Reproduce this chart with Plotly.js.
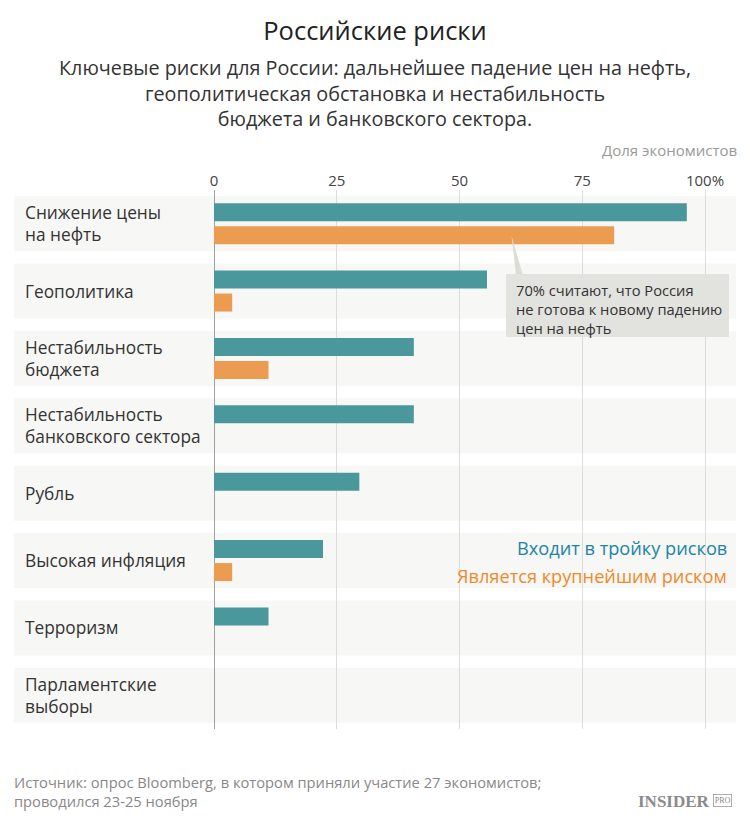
<!DOCTYPE html>
<html><head><meta charset="utf-8">
<script src="https://cdn.plot.ly/plotly-3.0.1.min.js"></script>
<style>html,body{margin:0;padding:0;background:#fff;}#chart{width:750px;height:820px;}</style>
</head><body><div id="chart"></div>
<script>
const categories = ['Снижение цены<br>на нефть','Геополитика','Нестабильность<br>бюджета','Нестабильность<br>банковского сектора','Рубль','Высокая инфляция','Терроризм','Парламентские<br>выборы'];
const top3 = [96.3, 55.6, 40.7, 40.7, 29.6, 22.2, 11.1, 0];
const biggest = [81.5, 3.7, 11.1, 0, 0, 3.7, 0, 0];
const tickVals = [0, 25, 50, 75, 100];
const tickText = ['0', '25', '50', '75', '100%'];
const seriesNames = ['Входит в тройку рисков', 'Является крупнейшим риском'];

const W = 750, H = 820;
const L = 214, R = 736, T = 190, B = 729;
const px = x => (x - L) / (R - L);
const py = y => (B - y) / (B - T);
const FONT = 'Open Sans, sans-serif';
const TEAL = '#4a989c', ORANGE = '#eb9c50';

const traces = [
  {type:'bar', orientation:'h', y:categories, x:top3, name:seriesNames[0], marker:{color:TEAL}, hoverinfo:'skip'},
  {type:'bar', orientation:'h', y:categories, x:biggest, name:seriesNames[1], marker:{color:ORANGE}, hoverinfo:'skip'}
];

const shapes = [];
categories.forEach((c, i) => {
  shapes.push({type:'rect', layer:'below', xref:'paper', yref:'y', x0:px(14), x1:1, y0:i-0.408, y1:i+0.408, fillcolor:'#f7f7f5', line:{width:0}});
});
// callout box + pointer
shapes.push({type:'path', xref:'x', yref:'y', path:'M 60.6,0.18 L 61.5,0.76 L 62.9,0.76 Z', fillcolor:'#dcdcd7', line:{width:0}});
shapes.push({type:'rect', xref:'paper', yref:'paper', x0:px(506), x1:px(729), y0:py(337), y1:py(274), fillcolor:'#e2e2de', line:{width:0}});

const annotations = [];
categories.forEach((c, i) => {
  annotations.push({xref:'paper', yref:'y', x:px(23), y:i, xanchor:'left', yanchor:'middle', align:'left', text:c, showarrow:false, font:{family:FONT, size:17.3, color:'#333'}});
});
annotations.push(
  {xref:'paper', yref:'paper', x:px(375), y:py(93), xanchor:'center', yanchor:'middle', align:'center', showarrow:false,
   text:'Ключевые риски для России: дальнейшее падение цен на нефть,<br>геополитическая обстановка и нестабильность<br>бюджета и банковского сектора.',
   font:{family:FONT, size:19.8, color:'#333'}},
  {xref:'paper', yref:'paper', x:px(739), y:py(150), xanchor:'right', yanchor:'middle', showarrow:false, text:'Доля экономистов', font:{family:FONT, size:15, color:'#999'}},
  {xref:'paper', yref:'paper', x:px(514), y:py(309), xanchor:'left', yanchor:'middle', align:'left', showarrow:false,
   text:'70% считают, что Россия<br>не готова к новому падению<br>цен на нефть', font:{family:FONT, size:14.7, color:'#333'}},
  {xref:'paper', yref:'paper', x:px(729), y:py(548), xanchor:'right', yanchor:'middle', showarrow:false, text:seriesNames[0], font:{family:FONT, size:18.2, color:'#2184a8'}},
  {xref:'paper', yref:'paper', x:px(729), y:py(576), xanchor:'right', yanchor:'middle', showarrow:false, text:seriesNames[1], font:{family:FONT, size:18.2, color:'#ee8a2c'}},
  {xref:'paper', yref:'paper', x:px(12), y:py(791), xanchor:'left', yanchor:'middle', align:'left', showarrow:false,
   text:'Источник: опрос Bloomberg, в котором приняли участие 27 экономистов;<br>проводился 23-25 ноября', font:{family:FONT, size:14.7, color:'#888'}},
  {xref:'paper', yref:'paper', x:px(712), y:py(801), xanchor:'right', yanchor:'middle', showarrow:false, text:'<b>INSIDER</b>', font:{family:'Liberation Serif, serif', size:17, color:'#8a8a8a'}},
  {xref:'paper', yref:'paper', x:px(713), y:py(800), xanchor:'left', yanchor:'middle', showarrow:false, text:'PRO', font:{family:'Liberation Serif, serif', size:8, color:'#8a8a8a'}, bordercolor:'#9a9a9a', borderwidth:0.8, borderpad:1}
);

const layout = {
  width:W, height:H, paper_bgcolor:'#fff', plot_bgcolor:'rgba(0,0,0,0)',
  margin:{l:L, r:W-R, t:T, b:H-B, pad:0},
  showlegend:false,
  title:{text:'Российские риски', x:0.5, xanchor:'center', y:1-31/H, yanchor:'middle', font:{family:FONT, size:25.5, color:'#222'}},
  barmode:'group', bargap:0.318, bargroupgap:0.217,
  xaxis:{side:'top', range:[0, 100*(R-L)/491], tickvals:tickVals, ticktext:tickText, ticks:'', showgrid:true, gridcolor:'#dcdcdc', gridwidth:1,
         zeroline:true, zerolinecolor:'#a0a0a0', zerolinewidth:1, showline:false, fixedrange:true,
         tickfont:{family:FONT, size:15, color:'#444'}},
  yaxis:{autorange:'reversed', showticklabels:false, showgrid:false, zeroline:false, showline:false, ticks:'', fixedrange:true},
  shapes:shapes, annotations:annotations
};
Plotly.newPlot('chart', traces, layout, {displayModeBar:false, staticPlot:true});
</script></body></html>
